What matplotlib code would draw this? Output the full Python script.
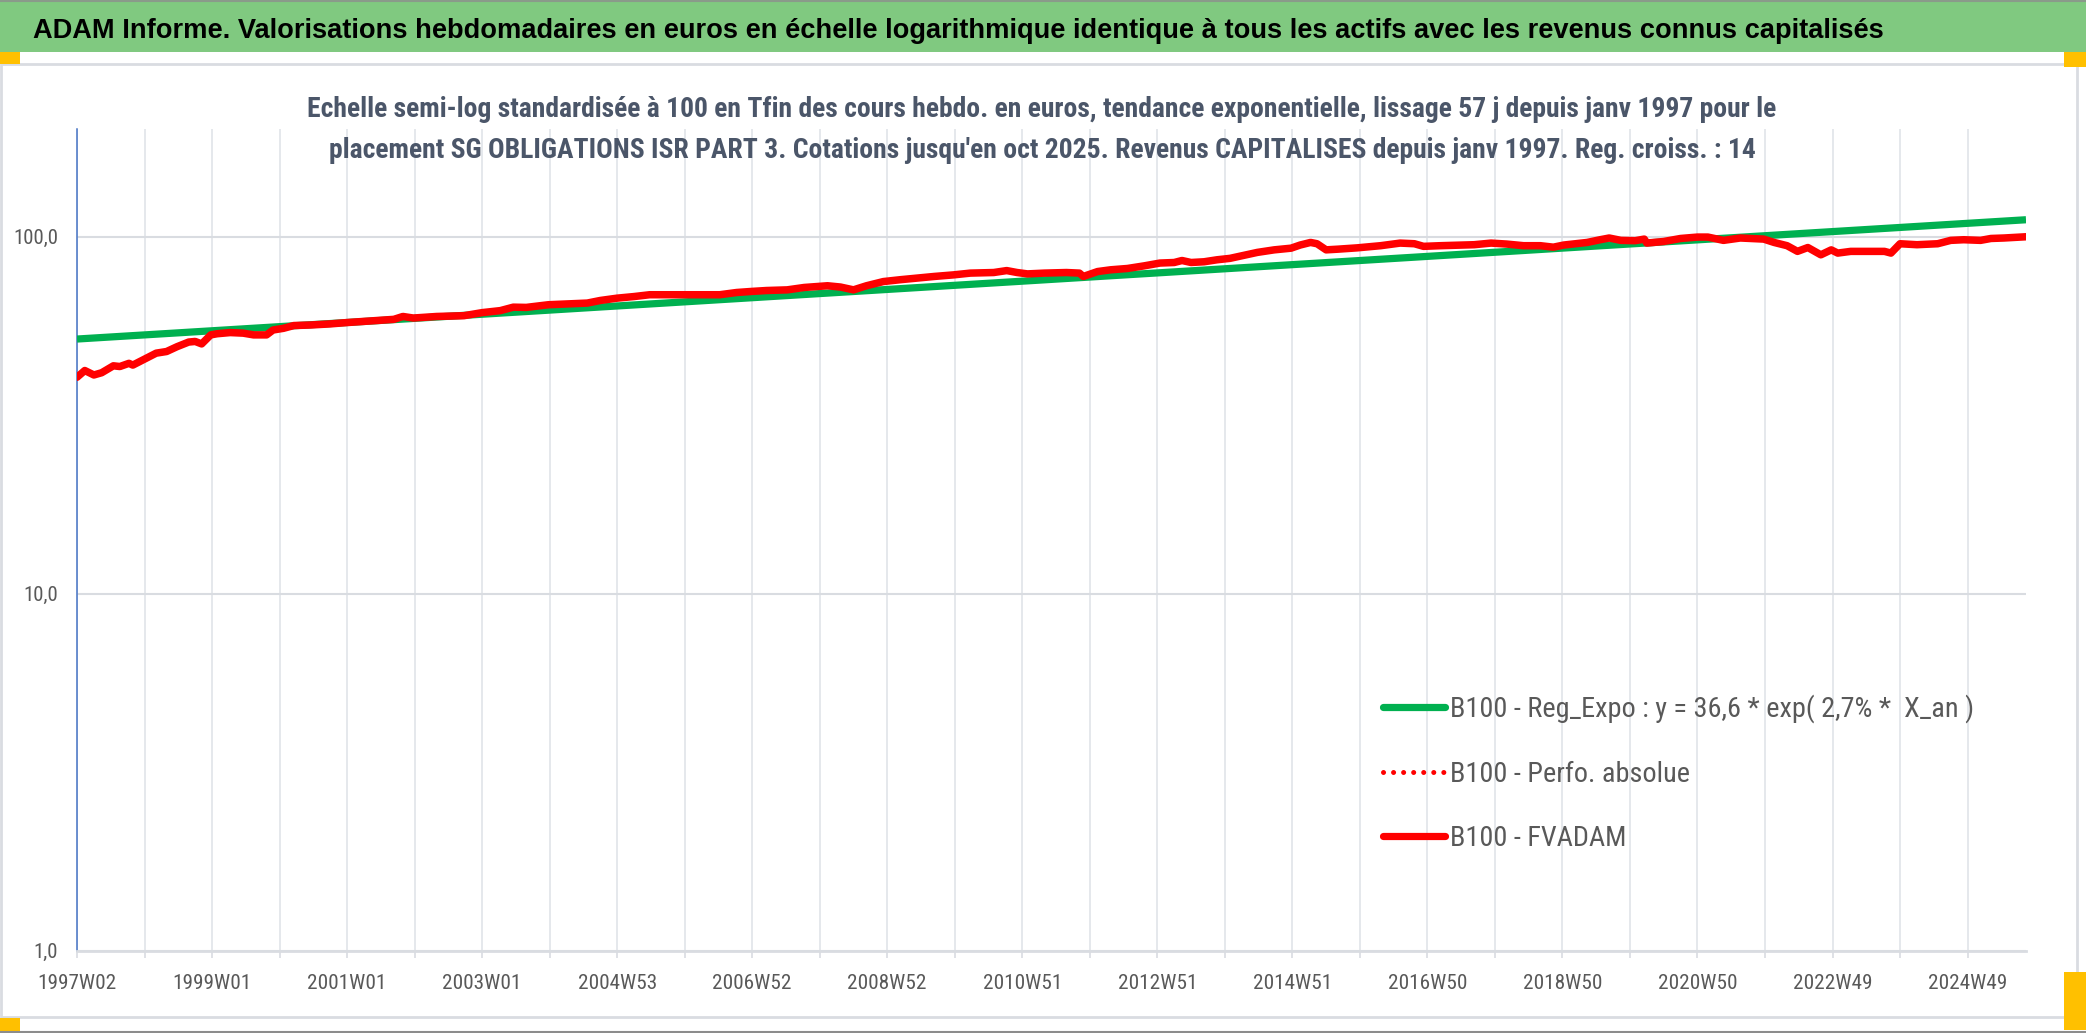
import matplotlib
matplotlib.use('Agg')
import matplotlib.pyplot as plt
from matplotlib import font_manager as fm
from matplotlib.patches import Rectangle
from matplotlib.lines import Line2D
from matplotlib.ticker import NullLocator

# ---------------- data ----------------
x_tick_labels = ['1997W02', '1999W01', '2001W01', '2003W01', '2004W53', '2006W52',
                 '2008W52', '2010W51', '2012W51', '2014W51', '2016W50', '2018W50',
                 '2020W50', '2022W49', '2024W49']
n_weeks = 1502            # weekly points from 1997W02 to oct 2025
label_step = 104          # one label every 104 weeks
grid_step = 52            # one gridline every 52 weeks

red_weeks = [0, 6, 13, 19, 28, 33, 40, 43, 52, 61, 69, 77, 86, 91, 96, 103, 108, 118, 128,
             136, 146, 151, 159, 167, 180, 195, 208, 226, 244, 251, 259, 277, 298, 312, 326,
             336, 346, 363, 380, 393, 403, 416, 429, 441, 454, 467, 480, 495, 508, 520, 531,
             547, 560, 571, 578, 588, 598, 608, 621, 634, 647, 660, 675, 688, 706, 716, 724,
             732, 745, 762, 772, 775, 786, 796, 809, 822, 834, 845, 851, 858, 868, 878, 888,
             898, 909, 922, 935, 942, 950, 955, 962, 971, 986, 1004, 1019, 1030, 1037, 1050,
             1066, 1076, 1089, 1101, 1114, 1127, 1137, 1145, 1163, 1173, 1180, 1189, 1200,
             1207, 1209, 1222, 1235, 1248, 1256, 1268, 1281, 1299, 1307, 1317, 1325, 1333,
             1343, 1351, 1356, 1366, 1376, 1392, 1397, 1404, 1417, 1433, 1443, 1453, 1466,
             1474, 1484, 1501]
red_values = [40.4, 42.2, 41.0, 41.6, 43.5, 43.3, 44.2, 43.7, 45.4, 47.2, 47.7, 49.2, 50.7,
              50.9, 50.1, 53.1, 53.5, 53.9, 53.7, 53.1, 53.1, 54.8, 55.4, 56.4, 56.6, 57.0,
              57.5, 58.1, 58.7, 59.8, 59.2, 59.8, 60.1, 61.3, 62.1, 63.5, 63.4, 64.5, 64.9,
              65.2, 66.3, 67.3, 68.0, 68.8, 68.8, 68.8, 68.8, 68.8, 69.8, 70.3, 70.7, 71.0,
              72.1, 72.6, 72.9, 72.3, 71.0, 72.9, 74.9, 75.8, 76.6, 77.4, 78.2, 79.1, 79.4,
              80.4, 79.4, 78.7, 79.1, 79.4, 79.1, 77.4, 79.9, 80.8, 81.5, 82.9, 84.4, 84.7,
              85.8, 84.7, 85.1, 86.2, 87.0, 88.6, 90.4, 91.9, 92.9, 94.8, 96.4, 95.6, 91.9,
              92.3, 93.1, 94.4, 96.0, 95.6, 94.0, 94.4, 94.8, 95.0, 96.0, 95.4, 94.4, 94.4,
              93.5, 94.8, 96.4, 98.1, 99.2, 97.7, 97.5, 98.5, 96.0, 97.0, 98.9, 99.8, 99.8,
              97.7, 99.2, 98.5, 96.4, 94.4, 91.0, 93.3, 89.0, 91.9, 90.0, 91.0, 91.0, 91.0,
              90.0, 95.6, 95.0, 95.6, 97.7, 98.1, 97.7, 98.9, 99.2, 100.0]

green_weeks = [0, 1501]
green_values = [51.7, 111.6]

y_ticks = [1, 10, 100]
y_tick_labels = ['1,0', '10,0', '100,0']

legend_labels = ['B100 - Reg_Expo : y = 36,6 * exp( 2,7% *  X_an )',
                 'B100 - Perfo. absolue',
                 'B100 - FVADAM']

title_text = ("ADAM Informe. Valorisations hebdomadaires en euros en échelle logarithmique "
              "identique à tous les actifs avec les revenus connus capitalisés")
subtitle_1 = ("Echelle semi-log standardisée à 100 en Tfin des cours hebdo. en euros, tendance "
              "exponentielle, lissage 57 j depuis janv 1997 pour le")
subtitle_2 = ("placement SG OBLIGATIONS ISR PART 3. Cotations jusqu'en oct 2025. Revenus "
              "CAPITALISES depuis janv 1997. Reg. croiss. : 14")

# ---------------- fonts ----------------
def _w(f):
    if isinstance(f.weight, int):
        return f.weight
    return fm.weight_dict.get(str(f.weight).lower(), 400)

def find_condensed():
    ents = fm.fontManager.ttflist
    cond = [f for f in ents if f.style == 'normal' and
            ('Narrow' in f.name or 'Condensed' in f.name or
             str(f.stretch) in ('condensed', 'semi-condensed', 'extra-condensed'))]
    prefs = ['Liberation Sans Narrow', 'Roboto Condensed', 'Open Sans Condensed',
             'Noto Sans Condensed', 'Noto Sans', 'DejaVu Sans Condensed', 'DejaVu Sans']
    names = [n for n in prefs if any(f.name == n for f in cond)]
    names += sorted({f.name for f in cond} - set(names))
    for n in names:
        group = [f for f in cond if f.name == n]
        if n.startswith('Noto Sans') or n.startswith('DejaVu'):
            semi = [f for f in group if str(f.stretch) == 'semi-condensed']
            full = [f for f in group if str(f.stretch) == 'condensed']
            group = full or semi or group
        reg = sorted(group, key=lambda f: abs(_w(f) - 400))
        bold = sorted(group, key=lambda f: abs(_w(f) - 700))
        if reg:
            return reg[0].fname, bold[0].fname
    return None, None

REG_FILE, BOLD_FILE = find_condensed()

def FP(size, weight='normal'):
    if REG_FILE:
        return fm.FontProperties(fname=BOLD_FILE if weight == 'bold' else REG_FILE, size=size)
    return fm.FontProperties(family='Liberation Sans', size=size, weight=weight)

# ---------------- figure ----------------
W, H = 2086, 1033
fig = plt.figure(figsize=(W / 100, H / 100), dpi=100)
fig.patch.set_facecolor('white')
renderer = fig.canvas.get_renderer()

def fx(x):
    return x / W

def fy(y):
    return 1 - y / H

def size_for(text, target_px, weight='normal', ref=20):
    t = fig.text(0, 0, text, fontproperties=FP(ref, weight))
    w = t.get_window_extent(renderer).width
    t.remove()
    return ref * target_px / w

# decorations (sheet / chart frame)
fig.patches.append(Rectangle((0, fy(52)), 1, 52 / H, transform=fig.transFigure,
                             facecolor='#80c980', edgecolor='none', zorder=0))
fig.lines.append(Line2D([0, 1], [fy(1), fy(1)], transform=fig.transFigure,
                        color='#8a9a8a', lw=1.5))
fig.patches.append(Rectangle((fx(1), fy(1017)), fx(2076), (1017 - 64) / H,
                             transform=fig.transFigure, facecolor='none',
                             edgecolor='#d9dce1', lw=2))
fig.lines.append(Line2D([0, 1], [fy(1032), fy(1032)], transform=fig.transFigure,
                        color='#8c8c8c', lw=1.5))
for (x0, y0, w, h) in [(0, 52, 20, 12), (2064, 52, 22, 15), (0, 1018, 20, 13),
                       (2064, 972, 22, 58)]:
    fig.patches.append(Rectangle((fx(x0), fy(y0 + h)), w / W, h / H,
                                 transform=fig.transFigure, facecolor='#ffc000',
                                 edgecolor='none'))

# titles
t1 = fig.text(fx(33), fy(38), title_text, ha='left', va='baseline', color='black',
              family='Liberation Sans', weight='bold', fontsize=19)
t1.set_fontsize(19 * 1852 / t1.get_window_extent(renderer).width)

sub_size = size_for(subtitle_1, 1467, 'bold')
fig.text(fx(1042), fy(117), subtitle_1, ha='center', va='baseline', color='#4b5669',
         fontproperties=FP(sub_size, 'bold'))
fig.text(fx(1042), fy(158), subtitle_2, ha='center', va='baseline', color='#4b5669',
         fontproperties=FP(sub_size, 'bold'))

xtick_size = size_for('1997W02', 79)
ytick_size = size_for('100,0', 45)
leg_size = size_for(legend_labels[0], 522)

# axes
ax = fig.add_axes([fx(77), fy(950.7), (2026 - 77) / W, (950.7 - 129.3) / H])
ax.set_facecolor('none')
ax.set_yscale('log')
ax.set_ylim(1, 200)
ax.set_xlim(0, n_weeks - 1)

ax.plot(green_weeks, green_values, color='#00b050', lw=5.2, solid_capstyle='butt', zorder=3)
ax.plot(red_weeks, red_values, color='#ff0000', lw=3.6, linestyle=(0, (0.01, 2.0)),
        dash_capstyle='round', zorder=4)
ax.plot(red_weeks, red_values, color='#ff0000', lw=5.4, solid_joinstyle='round',
        solid_capstyle='round', zorder=5)

# x ticks: gridline every year, label every two years
grid_pos = list(range(0, n_weeks, grid_step))
grid_lab = []
for p in grid_pos:
    grid_lab.append(x_tick_labels[p // label_step] if p % label_step == 0 else '')
ax.set_xticks(grid_pos, grid_lab, fontproperties=FP(xtick_size), color='#595959')
ax.xaxis.set_minor_locator(NullLocator())
ax.tick_params(axis='x', direction='out', length=5, width=1.2, color='#d9dce1', pad=12)

ax.set_yticks(y_ticks, y_tick_labels, fontproperties=FP(ytick_size), color='#595959')
ax.yaxis.set_minor_locator(NullLocator())
ax.tick_params(axis='y', length=0, pad=13.5)

ax.grid(True, axis='x', color='#e3e6eb', lw=1.3, zorder=0)
ax.grid(True, axis='y', color='#d9dce1', lw=1.5, zorder=0)
ax.set_axisbelow(True)

for s in ['top', 'right']:
    ax.spines[s].set_visible(False)
ax.spines['left'].set_color('#4472c4')
ax.spines['left'].set_linewidth(1.1)
ax.spines['bottom'].set_color('#d9dce1')
ax.spines['bottom'].set_linewidth(2)

handles = [Line2D([], [], color='#00b050', lw=5.2, solid_capstyle='round'),
           Line2D([], [], color='#ff0000', lw=3.6, linestyle=(0, (0.01, 2.0)),
                  dash_capstyle='round'),
           Line2D([], [], color='#ff0000', lw=5.2, solid_capstyle='round')]

fs_px = leg_size * 100 / 72
probe = fig.text(0, 0, legend_labels[0], fontproperties=FP(leg_size))
row_h = probe.get_window_extent(renderer).height
probe.remove()
row_gap = 66 - row_h
leg = ax.legend(handles, legend_labels, prop=FP(leg_size), frameon=False, loc='upper left',
                bbox_to_anchor=(fx(1383), fy(709 - row_h / 2)), bbox_transform=fig.transFigure,
                handlelength=62 / fs_px, handletextpad=5 / fs_px,
                labelspacing=row_gap / fs_px, borderpad=0,
                borderaxespad=0, labelcolor='#595959')

fig.savefig('out.png', dpi=100, facecolor='white')
